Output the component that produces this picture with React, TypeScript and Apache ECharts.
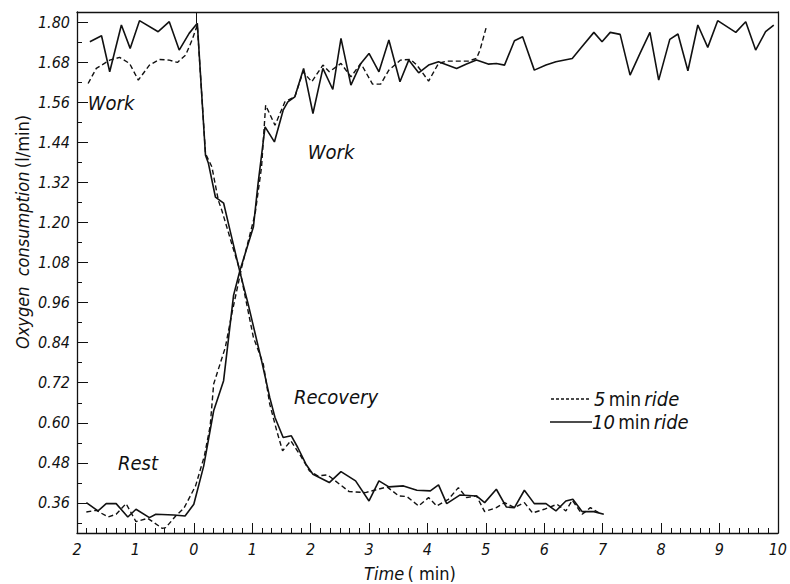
import React, { useEffect, useRef } from "react";
import * as echarts from "echarts";

// ---- data (time in minutes, O2 in l/min) ----
const xMin = -2;
const xMax = 10;
const yMin = 0.27;
const yMax = 1.83;
const yTickValues = [0.36, 0.48, 0.6, 0.72, 0.84, 0.96, 1.08, 1.2, 1.32, 1.44, 1.56, 1.68, 1.8];
const yMinorValues = [0.3, 0.42, 0.54, 0.66, 0.78, 0.9, 1.02, 1.14, 1.26, 1.38, 1.5, 1.62, 1.74];

// 10 min ride: end of work, then recovery
const tenWorkRecovery: [number, number][] = [
  [-1.78, 1.741], [-1.58, 1.759], [-1.44, 1.651], [-1.24, 1.791], [-1.09, 1.721], [-0.93, 1.804],
  [-0.61, 1.771], [-0.42, 1.801], [-0.25, 1.716], [-0.08, 1.766], [0.06, 1.796],
  [0.2, 1.401], [0.25, 1.377], [0.37, 1.276], [0.51, 1.258], [0.62, 1.176], [0.79, 1.051],
  [0.93, 0.956], [1.16, 0.786], [1.3, 0.676], [1.39, 0.616], [1.53, 0.556], [1.67, 0.561],
  [1.78, 0.526], [1.92, 0.476], [2.04, 0.446], [2.32, 0.421], [2.52, 0.454], [2.77, 0.426],
  [3.0, 0.366], [3.17, 0.426], [3.34, 0.408], [3.59, 0.411], [3.82, 0.398], [4.05, 0.396],
  [4.19, 0.414], [4.33, 0.358], [4.56, 0.384], [4.84, 0.381], [4.98, 0.361], [5.18, 0.401],
  [5.35, 0.348], [5.49, 0.346], [5.66, 0.398], [5.83, 0.358], [6.03, 0.358], [6.2, 0.336],
  [6.37, 0.366], [6.49, 0.371], [6.65, 0.334], [6.85, 0.334], [7.02, 0.326],
];

// 5 min ride: end of work, then recovery
const fiveWorkRecovery: [number, number][] = [
  [-1.81, 1.616], [-1.67, 1.661], [-1.44, 1.686], [-1.27, 1.694], [-1.1, 1.676], [-0.95, 1.626],
  [-0.76, 1.671], [-0.59, 1.688], [-0.42, 1.686], [-0.28, 1.679], [-0.14, 1.701], [-0.03, 1.746],
  [0.06, 1.791], [0.2, 1.406], [0.31, 1.366], [0.42, 1.266], [0.48, 1.236], [0.65, 1.136],
  [0.79, 1.056], [1.02, 0.856], [1.19, 0.776], [1.3, 0.656], [1.42, 0.576], [1.52, 0.516],
  [1.66, 0.546], [1.83, 0.501], [1.98, 0.456], [2.12, 0.441], [2.29, 0.444], [2.66, 0.394],
  [2.94, 0.391], [3.31, 0.408], [3.51, 0.381], [3.65, 0.379], [3.85, 0.351], [4.02, 0.376],
  [4.16, 0.351], [4.36, 0.371], [4.53, 0.406], [4.67, 0.376], [4.84, 0.381], [4.98, 0.334],
  [5.18, 0.346], [5.32, 0.361], [5.49, 0.346], [5.66, 0.361], [5.8, 0.33], [6.0, 0.341],
  [6.22, 0.356], [6.37, 0.336], [6.48, 0.368], [6.65, 0.326], [6.79, 0.346], [6.93, 0.331],
];

// 10 min ride: rest, then work
const tenRestWork: [number, number][] = [
  [-1.84, 0.361], [-1.64, 0.336], [-1.5, 0.358], [-1.33, 0.358], [-1.13, 0.318], [-0.99, 0.341],
  [-0.76, 0.316], [-0.65, 0.326], [-0.34, 0.324], [-0.15, 0.321], [0.0, 0.356], [0.17, 0.471],
  [0.34, 0.636], [0.51, 0.726], [0.59, 0.846], [0.68, 0.981], [0.79, 1.056], [1.02, 1.186],
  [1.1, 1.316], [1.22, 1.486], [1.38, 1.441], [1.53, 1.536], [1.61, 1.561], [1.73, 1.576],
  [1.88, 1.661], [2.04, 1.526], [2.21, 1.661], [2.38, 1.598], [2.52, 1.751], [2.69, 1.611],
  [2.86, 1.676], [3.0, 1.706], [3.17, 1.651], [3.34, 1.746], [3.53, 1.621], [3.68, 1.686],
  [3.85, 1.648], [4.02, 1.671], [4.19, 1.681], [4.5, 1.661], [4.67, 1.674], [4.84, 1.686],
  [5.04, 1.674], [5.18, 1.676], [5.32, 1.671], [5.49, 1.744], [5.63, 1.756], [5.83, 1.656],
  [6.03, 1.671], [6.2, 1.681], [6.48, 1.691], [6.62, 1.721], [6.85, 1.769], [6.99, 1.741],
  [7.13, 1.769], [7.3, 1.763], [7.47, 1.641], [7.64, 1.706], [7.81, 1.769], [7.96, 1.626],
  [8.15, 1.748], [8.29, 1.764], [8.46, 1.654], [8.63, 1.791], [8.8, 1.724], [8.97, 1.804],
  [9.28, 1.769], [9.45, 1.801], [9.62, 1.716], [9.79, 1.771], [9.93, 1.791],
];

// 5 min ride: rest, then work
const fiveRestWork: [number, number][] = [
  [-1.84, 0.333], [-1.67, 0.338], [-1.47, 0.318], [-1.33, 0.326], [-1.16, 0.358], [-0.99, 0.304],
  [-0.79, 0.314], [-0.54, 0.284], [-0.48, 0.286], [-0.31, 0.321], [-0.17, 0.344], [0.03, 0.411],
  [0.18, 0.5], [0.28, 0.59], [0.34, 0.716], [0.54, 0.826], [0.65, 0.926], [0.76, 1.016],
  [0.82, 1.066], [1.05, 1.226], [1.16, 1.366], [1.23, 1.551], [1.39, 1.491], [1.56, 1.561],
  [1.73, 1.576], [1.87, 1.651], [2.02, 1.621], [2.21, 1.671], [2.32, 1.651], [2.52, 1.676],
  [2.69, 1.636], [2.86, 1.676], [3.06, 1.614], [3.2, 1.614], [3.34, 1.656], [3.54, 1.686],
  [3.71, 1.688], [3.82, 1.671], [4.02, 1.623], [4.19, 1.676], [4.33, 1.683], [4.7, 1.683],
  [4.84, 1.691], [4.9, 1.716], [5.01, 1.786],
];

const FONT = "'DejaVu Sans Condensed', 'DejaVu Sans', sans-serif";
const INK = "#111";

export default function App() {
  const ref = useRef<HTMLDivElement>(null);

  useEffect(() => {
    const chart = echarts.init(ref.current!, null, { renderer: "svg" });

    const solid = { color: INK, width: 1.6, type: "solid" as const };
    const dashed = { color: INK, width: 1.4, type: [5, 3] as any };

    const mkSeries = (name: string, data: [number, number][], ls: any) => ({
      name,
      type: "line",
      data,
      showSymbol: false,
      symbol: "none",
      lineStyle: ls,
      xAxisIndex: 0,
      yAxisIndex: 0,
      z: 3,
    });

    const labelText = (x: number, y: number, text: string, size = 20) => ({
      type: "text",
      x,
      y,
      style: {
        text,
        font: `italic ${size}px ${FONT}`,
        fill: INK,
        align: "center",
        verticalAlign: "middle",
      },
    });

    const legendRich = {
      i: { font: `italic 20px ${FONT}`, fill: INK },
      n: { font: `19px ${FONT}`, fill: INK },
    };

    const option: any = {
      animation: false,
      backgroundColor: "#fff",
      grid: { left: 77, right: 6, top: 12, bottom: 51, show: false },
      xAxis: [
        {
          type: "value",
          min: xMin,
          max: xMax,
          interval: 1,
          position: "bottom",
          axisLine: { show: true, onZero: false, lineStyle: { color: INK, width: 1.3 } },
          axisTick: { show: true, inside: true, length: 10, lineStyle: { color: INK, width: 1 } },
          minorTick: { show: true, splitNumber: 6, length: 5, lineStyle: { color: INK, width: 1 } },
          axisLabel: {
            formatter: (v: number) => String(Math.abs(v)),
            fontFamily: FONT,
            fontStyle: "italic",
            fontSize: 16,
            color: INK,
            margin: 8,
          },
          splitLine: { show: false },
          minorSplitLine: { show: false },
        },
        {
          type: "value",
          min: xMin,
          max: xMax,
          position: "top",
          axisLine: { show: true, onZero: false, lineStyle: { color: INK, width: 1.3 } },
          axisTick: { show: true, inside: true, length: 11, customValues: [0.05], lineStyle: { color: INK } },
          axisLabel: { show: false },
          splitLine: { show: false },
        },
      ],
      yAxis: [
        {
          type: "value",
          min: yMin,
          max: yMax,
          position: "left",
          axisLine: { show: true, onZero: false, lineStyle: { color: INK, width: 1.3 } },
          axisTick: {
            show: true,
            inside: true,
            length: 11,
            customValues: yTickValues,
            lineStyle: { color: INK, width: 1 },
          },
          axisLabel: {
            customValues: yTickValues,
            formatter: (v: number) => v.toFixed(2),
            fontFamily: FONT,
            fontStyle: "italic",
            fontSize: 16,
            color: INK,
            margin: 7,
          },
          splitLine: { show: false },
        },
        {
          type: "value",
          min: yMin,
          max: yMax,
          position: "left",
          axisLine: { show: false, onZero: false },
          axisTick: {
            show: true,
            inside: true,
            length: 5,
            customValues: yMinorValues,
            lineStyle: { color: INK, width: 1 },
          },
          axisLabel: { show: false },
          splitLine: { show: false },
        },
        {
          type: "value",
          min: yMin,
          max: yMax,
          position: "right",
          axisLine: { show: true, onZero: false, lineStyle: { color: INK, width: 1.3 } },
          axisTick: { show: false },
          axisLabel: { show: false },
          splitLine: { show: false },
        },
      ],
      series: [
        mkSeries("5 min ride", fiveWorkRecovery, dashed),
        mkSeries("5 min ride", fiveRestWork, dashed),
        mkSeries("10 min ride", tenWorkRecovery, solid),
        mkSeries("10 min ride", tenRestWork, solid),
      ],
      graphic: [
        labelText(111, 103, "Work"),
        labelText(331, 152, "Work"),
        labelText(336, 397, "Recovery"),
        labelText(138, 463, "Rest"),
        // legend
        {
          type: "line",
          shape: { x1: 551, y1: 399, x2: 590, y2: 399 },
          style: { stroke: INK, lineWidth: 1.3, lineDash: [3, 2] },
        },
        {
          type: "line",
          shape: { x1: 550, y1: 422, x2: 592, y2: 422 },
          style: { stroke: INK, lineWidth: 1.6 },
        },
        {
          type: "text",
          x: 594,
          y: 399,
          style: {
            text: "{i|5} {n|min} {i|ride}",
            verticalAlign: "middle",
            align: "left",
            rich: legendRich,
          },
        },
        {
          type: "text",
          x: 592,
          y: 422,
          style: {
            text: "{i|10} {n|min} {i|ride}",
            verticalAlign: "middle",
            align: "left",
            rich: legendRich,
          },
        },
        // axis titles
        {
          type: "text",
          x: 410,
          y: 573,
          style: {
            text: "{i|Time} {n|( min)}",
            align: "center",
            verticalAlign: "middle",
            rich: {
              i: { font: `italic 18px ${FONT}`, fill: INK },
              n: { font: `18px ${FONT}`, fill: INK },
            },
          },
        },
        {
          type: "text",
          x: 22,
          y: 232,
          rotation: Math.PI / 2,
          style: {
            text: "{i|Oxygen  consumption} {n|(l/min)}",
            align: "center",
            verticalAlign: "middle",
            rich: {
              i: { font: `italic 18px ${FONT}`, fill: INK },
              n: { font: `18px ${FONT}`, fill: INK },
            },
          },
        },
      ],
    };

    chart.setOption(option);
    return () => chart.dispose();
  }, []);

  return (
    <div
      ref={ref}
      style={{ position: "absolute", left: 0, top: 0, width: 790, height: 584, background: "#fff" }}
    />
  );
}
